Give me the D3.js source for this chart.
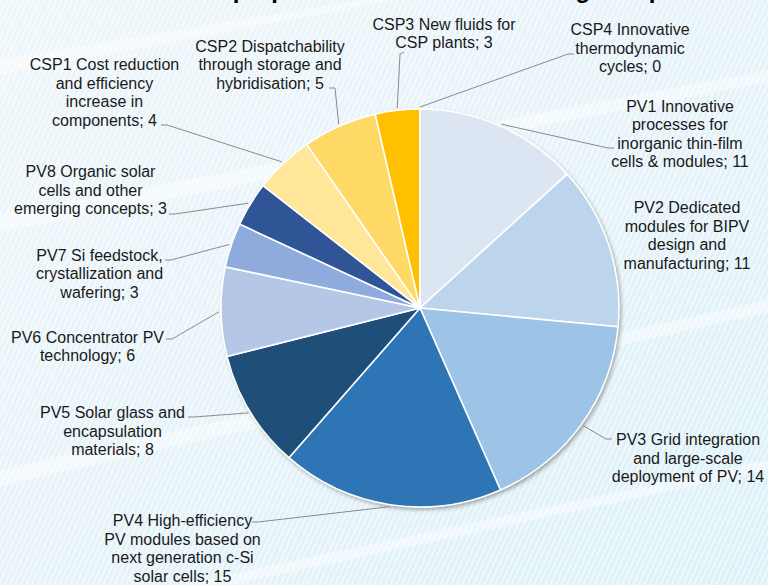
<!DOCTYPE html>
<html>
<head>
<meta charset="utf-8">
<script src="https://cdn.jsdelivr.net/npm/d3@7"></script>
<style>
  html, body { margin: 0; padding: 0; background: #ffffff; }
  svg { display: block; }
  text { font-family: "Liberation Sans", Arial, Helvetica, sans-serif; }
</style>
</head>
<body>
<div id="chart"></div>
<script>
// ---------- DATA ----------
const titleText = "Number of proposals submitted according to topic";
const categories = [
  "PV1 Innovative\nprocesses for\ninorganic thin-film\ncells & modules",
  "PV2 Dedicated\nmodules for BIPV\ndesign and\nmanufacturing",
  "PV3 Grid integration\nand large-scale\ndeployment of PV",
  "PV4 High-efficiency\nPV modules based on\nnext generation c-Si\nsolar cells",
  "PV5 Solar glass and\nencapsulation\nmaterials",
  "PV6 Concentrator PV\ntechnology",
  "PV7 Si feedstock,\ncrystallization and\nwafering",
  "PV8 Organic solar\ncells and other\nemerging concepts",
  "CSP1 Cost reduction\nand efficiency\nincrease in\ncomponents",
  "CSP2 Dispatchability\nthrough storage and\nhybridisation",
  "CSP3 New fluids for\nCSP plants",
  "CSP4 Innovative\nthermodynamic\ncycles"
];
const proposals = [11, 11, 14, 15, 8, 6, 3, 3, 4, 5, 3, 0];
const sliceColors = ["#dce6f2", "#bcd5ed", "#9dc3e6", "#2e75b6", "#1f4e79", "#b4c7e7",
                     "#8faadc", "#2f5597", "#ffe699", "#ffd966", "#ffc000", "#ffb000"];

// ---------- LAYOUT (positions only) ----------
const W = 768, H = 585;
const cx = 420, cy = 308, R = 199;
const lineH = 18.5;
// label centre x, first baseline y, leader elbow and end (null = no leader)
const labelLayout = [
  { x: 680,   y: 111.5, elbow: [608, 148], end: [614, 148] },
  { x: 687,   y: 213,   elbow: null, end: null },
  { x: 688,   y: 445,   elbow: [606, 439], end: [612, 439] },
  { x: 182.5, y: 526,   elbow: [258, 522], end: [252, 522] },
  { x: 112.5, y: 418,   elbow: [194, 417], end: [188, 417] },
  { x: 87.5,  y: 342.5, elbow: [172, 339], end: [166, 339] },
  { x: 99.5,  y: 260.5, elbow: [171, 260], end: [165, 260] },
  { x: 90.5,  y: 177,   elbow: [175, 214], end: [169, 214] },
  { x: 104.5, y: 70,    elbow: [167, 125], end: [161, 125] },
  { x: 270,   y: 51.5,  elbow: [335, 88],  end: [329, 88] },
  { x: 444,   y: 29.5,  elbow: [400, 54],  end: [404, 52] },
  { x: 630,   y: 35,    elbow: [568, 54],  end: [574, 54] }
];

const data = categories.map((c, i) => ({ name: c, value: proposals[i], color: sliceColors[i], layout: labelLayout[i] }));

const svg = d3.select("#chart").append("svg")
  .attr("width", W).attr("height", H)
  .attr("viewBox", `0 0 ${W} ${H}`);

const defs = svg.append("defs");
const grad = defs.append("linearGradient").attr("id", "bg")
  .attr("x1", "0").attr("y1", "0").attr("x2", "1").attr("y2", "1");
grad.append("stop").attr("offset", "0").attr("stop-color", "#eef6fa");
grad.append("stop").attr("offset", "0.5").attr("stop-color", "#e6f3f9");
grad.append("stop").attr("offset", "1").attr("stop-color", "#dcf1f8");

const pat = defs.append("pattern").attr("id", "stripes")
  .attr("width", 5).attr("height", 5)
  .attr("patternUnits", "userSpaceOnUse")
  .attr("patternTransform", "rotate(25)");
pat.append("rect").attr("x", 0).attr("y", 0).attr("width", 1.8).attr("height", 5)
  .attr("fill", "#ffffff").attr("opacity", 0.55);

const shadow = defs.append("filter").attr("id", "shadow")
  .attr("x", "-10%").attr("y", "-10%").attr("width", "125%").attr("height", "125%");
shadow.append("feDropShadow").attr("dx", 2).attr("dy", 2.5).attr("stdDeviation", 2.2)
  .attr("flood-color", "#000").attr("flood-opacity", 0.35);

// background
svg.append("rect").attr("width", W).attr("height", H).attr("fill", "url(#bg)");
svg.append("rect").attr("width", W).attr("height", H).attr("fill", "url(#stripes)");
const streaks = [
  [[0, 215], [768, 70], [768, 82], [0, 232]],
  [[0, 470], [768, 300], [768, 312], [0, 486]],
  [[0, 60], [420, -10], [450, -10], [0, 74]],
  [[180, 585], [768, 460], [768, 470], [230, 585]]
];
svg.append("g").selectAll("polygon").data(streaks).join("polygon")
  .attr("points", d => d.map(p => p.join(",")).join(" "))
  .attr("fill", "#ffffff").attr("opacity", 0.45);

// title (mostly cut off at the top)
svg.append("text").attr("x", 106).attr("y", -2)
  .attr("font-size", 24).attr("font-weight", "bold").attr("fill", "#000")
  .text(titleText);

// pie
const pie = d3.pie().sort(null).value(d => d.value).startAngle(0).endAngle(2 * Math.PI);
const arcs = pie(data);
const arc = d3.arc().innerRadius(0).outerRadius(R);
const edgeArc = d3.arc().innerRadius(R + 2).outerRadius(R + 2);

const g = svg.append("g").attr("transform", `translate(${cx},${cy})`);
g.append("circle").attr("r", R).attr("fill", "#ffffff").attr("filter", "url(#shadow)");
g.selectAll("path.slice").data(arcs).join("path")
  .attr("class", "slice")
  .attr("d", arc)
  .attr("fill", d => d.data.color)
  .attr("stroke", "#ffffff")
  .attr("stroke-width", 1.6)
  .attr("stroke-linejoin", "round");

// leader lines
const leaders = svg.append("g").attr("fill", "none").attr("stroke", "#8a8a8a").attr("stroke-width", 1);
arcs.forEach(d => {
  const L = d.data.layout;
  if (!L.elbow) return;
  const c = edgeArc.centroid(d);
  const p0 = [cx + c[0], cy + c[1]];
  leaders.append("polyline")
    .attr("points", [p0, L.elbow, L.end].map(p => p.join(",")).join(" "));
});

// labels
const labels = svg.append("g").attr("font-size", 16).attr("fill", "#1a1a1a").attr("text-anchor", "middle");
data.forEach(d => {
  const lines = d.name.split("\n");
  lines[lines.length - 1] += "; " + d.value;
  const t = labels.append("text").attr("x", d.layout.x).attr("y", d.layout.y);
  lines.forEach((ln, i) => {
    t.append("tspan").attr("x", d.layout.x).attr("y", d.layout.y + i * lineH).text(ln);
  });
});
</script>
</body>
</html>
